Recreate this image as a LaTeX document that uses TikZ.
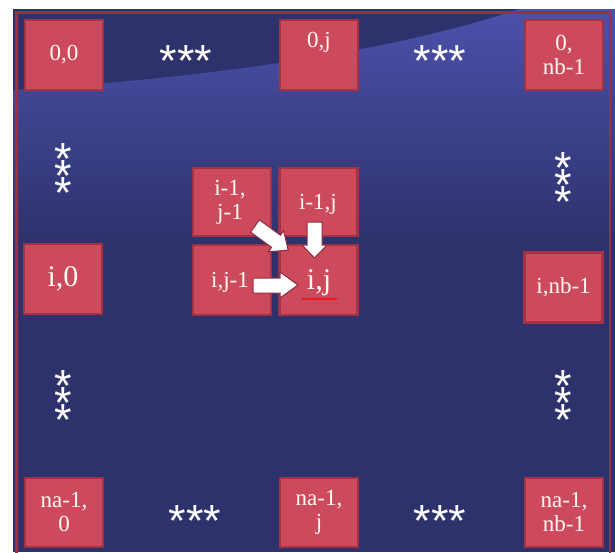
\documentclass[tikz,border=0pt]{standalone}
\usepackage{fontspec}
\setmainfont{Liberation Serif}
\newfontfamily\starfont{Liberation Sans}
\usetikzlibrary{decorations.pathmorphing}
\definecolor{bgdark}{HTML}{2E326C}
\definecolor{bglight}{HTML}{4B51AA}
\definecolor{framered}{HTML}{9D2F44}
\definecolor{cellfill}{HTML}{CC4A5B}
\definecolor{celledge}{HTML}{A33244}
\definecolor{arrowedge}{HTML}{8E2A3C}
\definecolor{textcol}{HTML}{FFFAF4}
\newcommand{\mystar}{\raisebox{-21pt}[6pt][6pt]{*}}
\tikzset{
  cell/.style={draw=celledge, line width=2.5pt, fill=cellfill, minimum width=78pt, minimum height=70pt, inner sep=0pt},
  celltext/.style={text=textcol, font=\fontsize{23}{24}\selectfont, align=center, inner sep=0pt},
  bigtext/.style={text=textcol, font=\fontsize{30}{32}\selectfont, inner sep=0pt},
  starsym/.style={text=white, font=\starfont\fontsize{45}{17}\selectfont, inner sep=0pt, align=center, anchor=center},
  blockarrow/.style={fill=white, draw=arrowedge, line width=1pt, line join=miter},
}
\begin{document}
\begin{tikzpicture}[x=1pt,y=-1pt]
\useasboundingbox (0,0) rectangle (615,552);
\clip (0,0) rectangle (615,552);
% background
\fill[white] (0,0) rectangle (615,552);
\fill[bgdark] (13,9) rectangle (615,552);
\begin{scope}
  \clip (13,90) .. controls (200,78) and (380,55) .. (520,9) -- (615,9) -- (615,240) -- (13,240) -- cycle;
  \shade[top color=bglight, bottom color=bgdark] (13,9) rectangle (615,240);
\end{scope}
\draw[framered, line width=2.5pt] (16.5,12.5) rectangle (610,570);

% top row
\node[cell] (c00) at (64,55) {};
\node[celltext] (t00) at (c00.center) {0,0};
\node[cell] (c0j) at (319,55) {};
\node[celltext] (t0j) at (319,42) {0,j};
\node[cell] (c0nb) at (564,55) {};
\node[celltext] (t0nb) at (c0nb.center) {0,\\nb-1};

% middle block
\node[cell, minimum height=68pt] (ca) at (232,202) {};
\node[celltext] (ta) at (230,202) {i-1,\\j-1};
\node[cell, minimum height=68pt] (cb) at (318.5,202) {};
\node[celltext] (tb) at (318,204) {i-1,j};
\node[cell] (cc) at (232,280) {};
\node[celltext] (tc) at (230,282) {i,j-1};
\node[cell] (cd) at (318.5,280) {};
\node[bigtext] (td) at (319,283) {i,j};
\draw[red, line width=0.8pt, decorate, decoration={snake, amplitude=0.8pt, segment length=3pt}] (302,299) -- (337,299);

% middle row sides
\node[cell] (ci0) at (63,279) {};
\node[bigtext] (ti0) at (ci0.center) {i,0};
\node[cell] (cinb) at (563.5,287.5) {};
\node[celltext] (tinb) at (cinb.center) {i,nb-1};

% bottom row
\node[cell, minimum height=69pt] (cna0) at (64,512.5) {};
\node[celltext] (tna0) at (cna0.center) {na-1,\\0};
\node[cell, minimum height=69pt] (cnaj) at (319,512.5) {};
\node[celltext] (tnaj) at (cnaj.center) {na-1,\\j};
\node[cell, minimum height=69pt] (cnanb) at (564,512.5) {};
\node[celltext] (tnanb) at (cnanb.center) {na-1,\\nb-1};

% arrows
\draw[blockarrow] (250.6,232.1) -- (259.4,219.9) -- (280.4,235.2) -- (283.6,230.8) -- (288.2,250.1) -- (268.4,251.8) -- (271.6,247.4) -- cycle;
\draw[blockarrow] (307,222) -- (322,222) -- (322,245) -- (327,245) -- (314.5,258) -- (302,245) -- (307,245) -- cycle;
\draw[blockarrow] (253,278) -- (280,278) -- (280,272) -- (298,285) -- (280,298) -- (280,293) -- (253,293) -- cycle;

% ellipses
\node[starsym] (s1) at (186,55) {\mystar\mystar\mystar};
\node[starsym] (s2) at (440,55) {\mystar\mystar\mystar};
\node[starsym] (s3) at (195,515) {\mystar\mystar\mystar};
\node[starsym] (s4) at (440,515) {\mystar\mystar\mystar};
\node[starsym] (sl) at (63,170) {\mystar\\\mystar\\\mystar};
\node[starsym] (sll) at (63,397) {\mystar\\\mystar\\\mystar};
\node[starsym] (sr) at (563,179) {\mystar\\\mystar\\\mystar};
\node[starsym] (srl) at (563,397) {\mystar\\\mystar\\\mystar};
\end{tikzpicture}
\end{document}
